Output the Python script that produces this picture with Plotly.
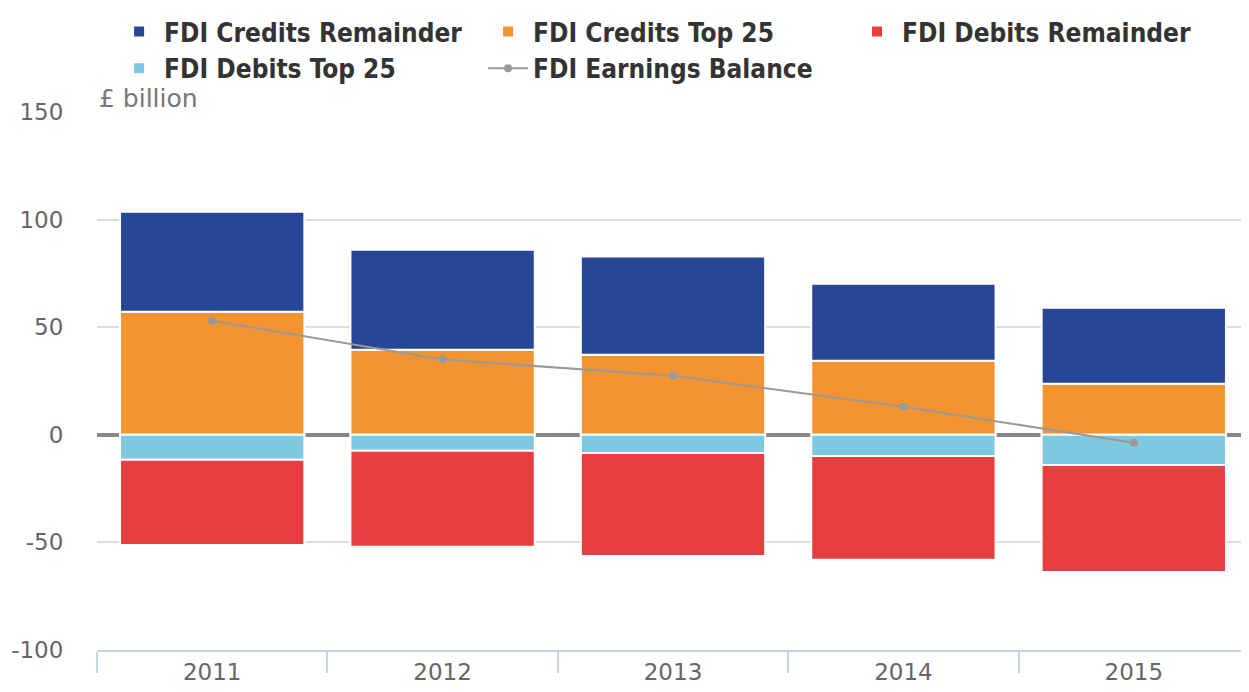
import plotly.graph_objects as go

years = ["2011", "2012", "2013", "2014", "2015"]
credits_remainder = [46.5, 46.5, 45.6, 35.8, 35.3]
credits_top25 = [57.2, 39.5, 37.2, 34.4, 23.7]
debits_top25 = [-11.6, -7.4, -8.4, -9.8, -14.0]
debits_remainder = [-39.6, -44.6, -47.9, -48.3, -49.7]
earnings_balance = [53.0, 35.0, 27.4, 13.0, -3.7]
y_ticks = [-100, -50, 0, 50, 100, 150]
y_tick_labels = ["-100", "-50", "0", "50", "100", "150"]

font_family = "DejaVu Sans"
line_white = dict(color="white", width=2)
pad = "\u00a0" * 2

fig = go.Figure()
fig.add_trace(go.Bar(name="FDI Credits Top 25", x=years, y=credits_top25,
                     marker=dict(color="#f39431", line=line_white), legendrank=2))
fig.add_trace(go.Bar(name="FDI Credits Remainder" + pad, x=years, y=credits_remainder,
                     marker=dict(color="#264796", line=line_white), legendrank=1))
fig.add_trace(go.Bar(name="FDI Debits Top 25", x=years, y=debits_top25,
                     marker=dict(color="#7ec8e0", line=line_white), legendrank=4))
fig.add_trace(go.Bar(name="FDI Debits Remainder", x=years, y=debits_remainder,
                     marker=dict(color="#e73e40", line=line_white), legendrank=3))
fig.add_trace(go.Scatter(name="FDI Earnings Balance", x=years, y=earnings_balance,
                         mode="lines+markers", legendrank=5,
                         line=dict(color="#999999", width=2),
                         marker=dict(color="#999999", size=8)))

fig.update_layout(
    width=1241, height=684,
    barmode="relative",
    bargap=0.2,
    plot_bgcolor="white", paper_bgcolor="white",
    margin=dict(l=89, r=0, t=104, b=42),
    font=dict(family=font_family, color="#666666", size=23),
    legend=dict(orientation="h", x=0.0855, y=1.0, xref="container", yref="container",
                xanchor="left", yanchor="top",
                traceorder="normal",
                font=dict(family="DejaVu Sans Condensed", size=26, color="#333333", weight="bold"),
                itemwidth=40, tracegroupgap=0),
    showlegend=True,
    xaxis=dict(showgrid=False, showline=True, linecolor="#c6d4e4", linewidth=2,
               ticks="outside", tickson="boundaries", ticklen=21, tickcolor="#c6d4e4",
               tickwidth=2, tickfont=dict(size=23, color="#666666")),
    yaxis=dict(range=[-100, 150], tickvals=y_ticks, ticktext=y_tick_labels,
               showgrid=True, gridcolor="#dddddd",
               gridwidth=2, zeroline=True, zerolinecolor="#888888", zerolinewidth=4,
               ticks="outside", ticklen=28, tickcolor="rgba(0,0,0,0)",
               tickfont=dict(size=23, color="#666666")),
    annotations=[dict(text="£ billion", x=0, y=150, xref="paper", yref="y",
                      xanchor="left", yanchor="bottom", showarrow=False, yshift=-3,
                      font=dict(size=25, color="#777777"))],
)

fig.write_html("out.html")
